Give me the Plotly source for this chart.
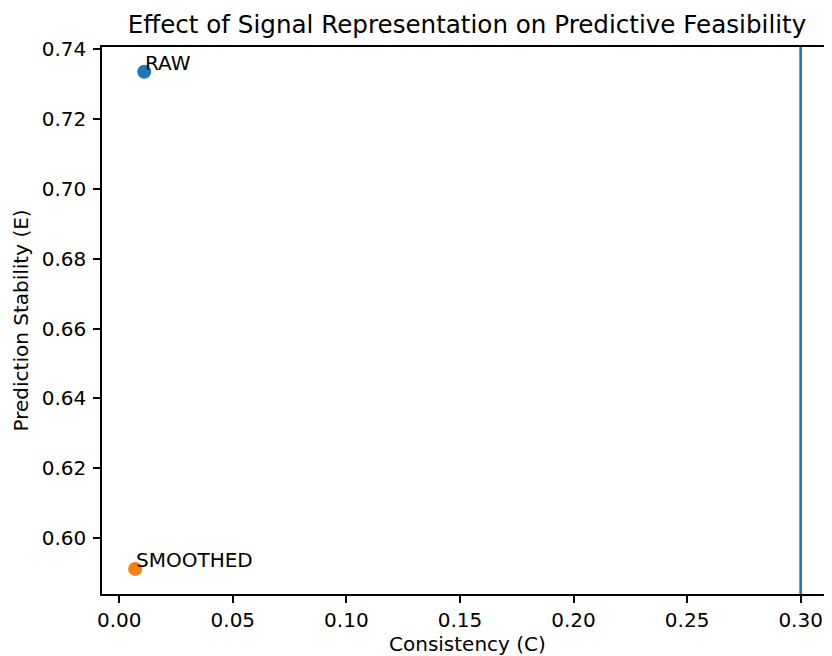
import plotly.graph_objects as go

# Data
labels = ["RAW", "SMOOTHED"]
consistency = [0.011, 0.007]
stability = [0.7336, 0.5911]
colors = ["#1f77b4", "#ff7f0e"]
threshold_c = 0.30

x_ticks = [0.00, 0.05, 0.10, 0.15, 0.20, 0.25, 0.30]
y_ticks = [0.60, 0.62, 0.64, 0.66, 0.68, 0.70, 0.72, 0.74]

FONT = "DejaVu Sans"
W, H = 824, 648  # page body has 8px margin

fig = go.Figure()
for lab, cx, sy, col in zip(labels, consistency, stability, colors):
    fig.add_trace(go.Scatter(
        x=[cx], y=[sy], mode="markers", name=lab,
        marker=dict(size=14, color=col, line=dict(width=0)),
        showlegend=False, hoverinfo="skip",
    ))
    fig.add_annotation(
        x=cx, y=sy, xref="x", yref="y", text=lab, showarrow=False,
        xanchor="left", yanchor="bottom", yshift=-5, xshift=-1,
        font=dict(family=FONT, size=20, color="black"),
    )

fig.add_vline(x=threshold_c, line=dict(color="#1f77b4", width=2.7))

axis_common = dict(
    showline=True, linecolor="black", linewidth=1.5,
    ticks="outside", ticklen=7, tickwidth=1.5, tickcolor="black",
    showgrid=False, zeroline=False,
    tickfont=dict(family=FONT, size=20, color="black"),
)

fig.update_xaxes(range=[-0.0076, 0.3138], tickvals=x_ticks,
                 ticktext=[f"{v:.2f}" for v in x_ticks], mirror=True, **axis_common)
fig.update_yaxes(range=[0.5839, 0.7407], tickvals=y_ticks,
                 ticktext=[f"{v:.2f}" for v in y_ticks], mirror=False,
                 ticklabelstandoff=3, **axis_common)

fig.add_annotation(
    text="Consistency (C)", xref="paper", yref="paper", x=0.5, y=0,
    xanchor="center", yanchor="middle", yshift=-50, showarrow=False,
    font=dict(family=FONT, size=20, color="black"),
)
fig.add_annotation(
    text="Prediction Stability (E)", xref="paper", yref="paper", x=0, y=0.5,
    xanchor="center", yanchor="middle", xshift=-82, textangle=-90, showarrow=False,
    font=dict(family=FONT, size=20, color="black"),
)

fig.update_layout(
    width=W, height=H,
    margin=dict(l=94, r=0, t=39, b=62),
    paper_bgcolor="white", plot_bgcolor="white",
    title=dict(text="Effect of Signal Representation on Predictive Feasibility",
               x=0.5, xref="paper", y=1 - 16.2 / H, yref="container",
               xanchor="center", yanchor="middle",
               font=dict(family=FONT, size=24.6, color="black")),
)

fig.write_html("out.html")
